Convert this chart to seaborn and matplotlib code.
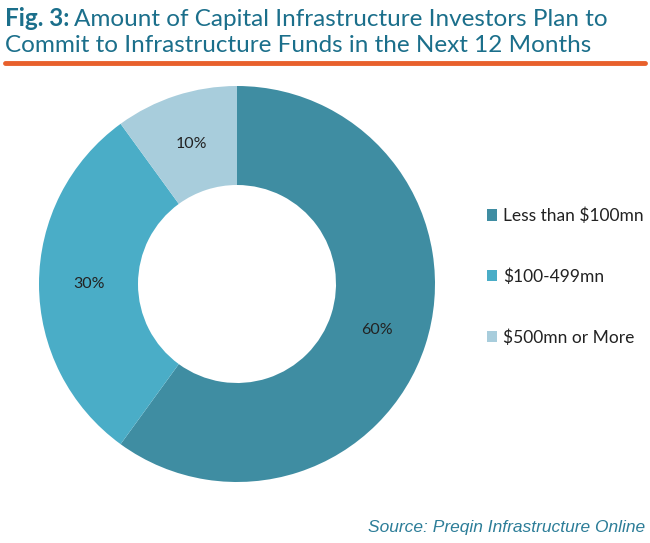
import matplotlib
matplotlib.use("Agg")
import matplotlib.pyplot as plt
import matplotlib.patches as mpatches
import seaborn as sns

categories = ["Less than $100mn", "$100-499mn", "$500mn or More"]
values = [60, 30, 10]
colors = ["#3F8DA2", "#4AADC7", "#A8CDDC"]

sns.set_theme(style="white")
plt.rcParams['font.family'] = ['Lato', 'DejaVu Sans']

W, H = 650, 543
fig = plt.figure(figsize=(W / 100, H / 100), dpi=100)
fig.patch.set_facecolor("white")

title_color = "#1B6F8B"
t1 = fig.text(5 / W, 1 - 26 / H, "Fig. 3:", fontsize=17.5, fontweight="bold",
              color=title_color, ha="left", va="baseline")
fig.canvas.draw()
bb = t1.get_window_extent(renderer=fig.canvas.get_renderer())
fig.text((bb.x1 + 5) / W, 1 - 26 / H,
         "Amount of Capital Infrastructure Investors Plan to",
         fontsize=17.5, color=title_color, ha="left", va="baseline")
fig.text(5 / W, 1 - 52 / H,
         "Commit to Infrastructure Funds in the Next 12 Months",
         fontsize=17.5, color=title_color, ha="left", va="baseline")

# orange rule
fig.add_artist(plt.Line2D([5 / W, 645 / W], [1 - 62.5 / H, 1 - 62.5 / H],
                          color="#E8602C", linewidth=3.5, transform=fig.transFigure))

cx, cy, r = 237, 284, 198
ax = fig.add_axes([(cx - r) / W, (H - cy - r) / H, 2 * r / W, 2 * r / H])
wedges, texts, autotexts = ax.pie(
    values, colors=colors, startangle=90, counterclock=False,
    autopct="%d%%", pctdistance=0.745, radius=1,
    wedgeprops=dict(width=0.5, edgecolor="white", linewidth=0),
    textprops=dict(fontsize=11.5, color="#222222"))
ax.set_xlim(-1, 1)
ax.set_ylim(-1, 1)
ax.set_aspect("equal")
ax.axis("off")

handles = [mpatches.Patch(facecolor=c, edgecolor="none", label=l)
           for c, l in zip(colors, categories)]
fig.legend(handles=handles, loc="upper left",
           bbox_to_anchor=(471 / W, 1 - 192 / H), frameon=False,
           fontsize=12.5, handlelength=0.6, handleheight=0.6,
           handletextpad=0.35, labelspacing=2.55, labelcolor="#222222")

fig.text(645 / W, 1 - 532 / H, "Source: Preqin Infrastructure Online",
         fontsize=12.5, style="italic", color="#2C7D98",
         family=["Liberation Sans", "DejaVu Sans"], ha="right", va="baseline")

fig.savefig("out.png", dpi=100, facecolor="white")
